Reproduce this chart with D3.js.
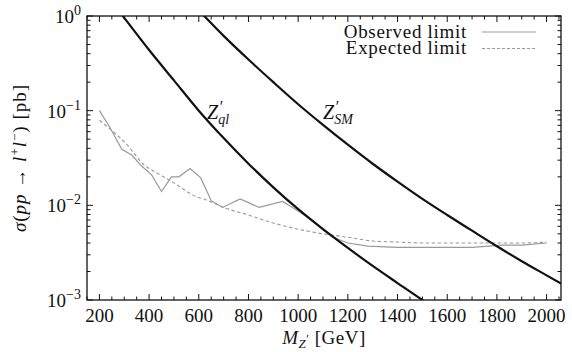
<!DOCTYPE html>
<html>
<head>
<meta charset="utf-8">
<script src="https://cdn.jsdelivr.net/npm/d3@7"></script>
<style>
  body { margin: 0; background: #fff; }
  text { font-family: "Liberation Serif", "Times New Roman", serif; fill: #111; }
</style>
</head>
<body>
<script>
// observed limit (mass in GeV, cross section in pb)
const obsMass = [200, 240, 290, 330, 370, 410, 450, 490, 520, 565, 608, 650, 696, 766, 843, 937,
  1000, 1050, 1100, 1140, 1200, 1280, 1400, 1600, 1700, 1820, 1900, 2000];
const obsSigma = [0.100, 0.068, 0.039, 0.034, 0.026, 0.021, 0.014, 0.020, 0.020, 0.0245, 0.0195, 0.0112,
  0.0095, 0.0117, 0.0095, 0.011, 0.0087, 0.0071, 0.0055, 0.0046, 0.0040, 0.0037, 0.0036, 0.0036,
  0.0036, 0.0038, 0.0038, 0.0040];

// expected limit
const expMass = [200, 240, 310, 375, 445, 510, 575, 645, 700, 800, 900, 1000, 1100, 1200, 1300,
  1400, 1500, 1600, 1700, 1800, 1900, 2000];
const expSigma = [0.079, 0.065, 0.044, 0.0275, 0.021, 0.0166, 0.0129, 0.011, 0.0095, 0.0079, 0.0065,
  0.0056, 0.0050, 0.0046, 0.0042, 0.0041, 0.0040, 0.0040, 0.0040, 0.0040, 0.0040, 0.0041];

// theory curves
const qlMass = [250, 300, 400, 500, 600, 700, 800, 900, 1000, 1100, 1200, 1300, 1400, 1500, 1600];
const qlSigma = [1.41, 0.955, 0.437, 0.209, 0.100, 0.0513, 0.0275, 0.0155, 0.0091, 0.0056, 0.00355,
  0.00229, 0.00151, 0.00100, 0.00068];
const smMass = [600, 700, 800, 900, 1000, 1100, 1200, 1300, 1400, 1500, 1600, 1700, 1800, 1900, 2000, 2100];
const smSigma = [1.15, 0.617, 0.347, 0.200, 0.117, 0.0708, 0.0437, 0.0275, 0.0178, 0.0117, 0.0079,
  0.0054, 0.0037, 0.00257, 0.00182, 0.00129];

const xTicks = [200, 400, 600, 800, 1000, 1200, 1400, 1600, 1800, 2000];
const yDecades = [0, -1, -2, -3];

const W = 572, H = 352;
const mLeft = 87, mRight = 561, mTop = 16, mBottom = 300;

const svg = d3.select('body').append('svg')
  .attr('width', W).attr('height', H);

const x = d3.scaleLinear().domain([150, 2058]).range([mLeft, mRight]);
const y = d3.scaleLog().domain([1e-3, 1]).range([mBottom, mTop]);

svg.append('clipPath').attr('id', 'clip')
  .append('rect').attr('x', mLeft).attr('y', mTop)
  .attr('width', mRight - mLeft).attr('height', mBottom - mTop);

const plot = svg.append('g').attr('clip-path', 'url(#clip)');

const zip = (ms, ss) => ms.map((m, i) => [m, ss[i]]);

const straight = d3.line().x(d => x(d[0])).y(d => y(d[1]));
const smooth = d3.line().x(d => x(d[0])).y(d => y(d[1])).curve(d3.curveMonotoneX);

plot.append('path').datum(zip(expMass, expSigma))
  .attr('d', smooth).attr('fill', 'none')
  .attr('stroke', '#999').attr('stroke-width', 1.1).attr('stroke-dasharray', '3.5,2.5');

plot.append('path').datum(zip(obsMass, obsSigma))
  .attr('d', straight).attr('fill', 'none')
  .attr('stroke', '#999').attr('stroke-width', 1.2);

[[qlMass, qlSigma], [smMass, smSigma]].forEach(([ms, ss]) => {
  plot.append('path').datum(zip(ms, ss))
    .attr('d', smooth).attr('fill', 'none')
    .attr('stroke', '#111').attr('stroke-width', 2.2);
});

// ticks, pointing inward on all four sides
const ticks = svg.append('g').attr('stroke', '#111').attr('stroke-width', 1);
d3.range(150, 2051, 50).forEach(m => {
  const len = xTicks.includes(m) ? 6 : 3.5;
  ticks.append('line').attr('x1', x(m)).attr('x2', x(m)).attr('y1', mBottom).attr('y2', mBottom - len);
  ticks.append('line').attr('x1', x(m)).attr('x2', x(m)).attr('y1', mTop).attr('y2', mTop + len);
});
yDecades.forEach(p => {
  const major = Math.pow(10, p);
  [mLeft, mRight].forEach(side => {
    const dir = side === mLeft ? 1 : -1;
    ticks.append('line').attr('x1', side).attr('x2', side + dir * 6)
      .attr('y1', y(major)).attr('y2', y(major));
    if (p > -3) {
      d3.range(2, 10).forEach(k => {
        const v = k * Math.pow(10, p - 1);
        ticks.append('line').attr('x1', side).attr('x2', side + dir * 3.5)
          .attr('y1', y(v)).attr('y2', y(v));
      });
    }
  });
});

svg.append('rect').attr('x', mLeft).attr('y', mTop)
  .attr('width', mRight - mLeft).attr('height', mBottom - mTop)
  .attr('fill', 'none').attr('stroke', '#111').attr('stroke-width', 1.3);

// tick labels
svg.append('g').selectAll('text').data(xTicks).join('text')
  .attr('x', d => x(d)).attr('y', 322)
  .attr('text-anchor', 'middle').style('font-size', '19px')
  .text(d => d);

const yl = svg.append('g').selectAll('text').data(yDecades).join('text')
  .attr('x', 81).attr('y', d => y(Math.pow(10, d)) + 7)
  .attr('text-anchor', 'end').style('font-size', '19px');
yl.append('tspan').text('10');
yl.append('tspan').attr('dy', -8).style('font-size', '14px')
  .text(d => d === 0 ? '0' : '\u2212' + (-d));

// axis titles
const xt = svg.append('text').attr('x', 324).attr('y', 344)
  .attr('text-anchor', 'middle').style('font-size', '19px').style('letter-spacing', '0.5px');
xt.append('tspan').style('font-style', 'italic').text('M');
xt.append('tspan').attr('dy', 4).style('font-size', '13px').style('font-style', 'italic').text('Z');
xt.append('tspan').attr('dy', -5).style('font-size', '12px').text('\u2032');
xt.append('tspan').attr('dy', 1).text(' [GeV]');

const yt = svg.append('text')
  .attr('transform', 'translate(26,158) rotate(-90)')
  .attr('text-anchor', 'middle').style('font-size', '19px').style('letter-spacing', '1px');
yt.append('tspan').style('font-style', 'italic').text('\u03c3');
yt.append('tspan').text('(');
yt.append('tspan').style('font-style', 'italic').text('pp');
yt.append('tspan').text(' \u2192 ');
yt.append('tspan').style('font-style', 'italic').text('l');
yt.append('tspan').attr('dy', -7).style('font-size', '13px').text('+');
yt.append('tspan').attr('dy', 7).style('font-style', 'italic').text('l');
yt.append('tspan').attr('dy', -7).style('font-size', '13px').text('\u2212');
yt.append('tspan').attr('dy', 7).text(') [pb]');

// curve labels
function zLabel(px, py, sub) {
  const t = svg.append('text').attr('x', px).attr('y', py).style('font-size', '20px');
  t.append('tspan').style('font-style', 'italic').text('Z');
  t.append('tspan').attr('dx', 1.5).attr('dy', -7).style('font-size', '16px').text('\u2032');
  t.append('tspan').attr('dx', -5).attr('dy', 12).style('font-size', '14px')
    .style('font-style', 'italic').text(sub);
}
zLabel(207, 119, 'ql');
zLabel(323, 119, 'SM');

// legend
const legendItems = [
  { label: 'Observed limit', yy: 37.5, dash: null },
  { label: 'Expected limit', yy: 54, dash: '3,2' }
];
legendItems.forEach(it => {
  svg.append('text').attr('x', 467).attr('y', it.yy)
    .attr('text-anchor', 'end').style('font-size', '19px').style('letter-spacing', '0.7px')
    .text(it.label);
  svg.append('line').attr('x1', 482).attr('x2', 536)
    .attr('y1', it.yy - 5.5).attr('y2', it.yy - 5.5)
    .attr('stroke', '#999').attr('stroke-width', 1.1)
    .attr('stroke-dasharray', it.dash);
});
</script>
</body>
</html>
